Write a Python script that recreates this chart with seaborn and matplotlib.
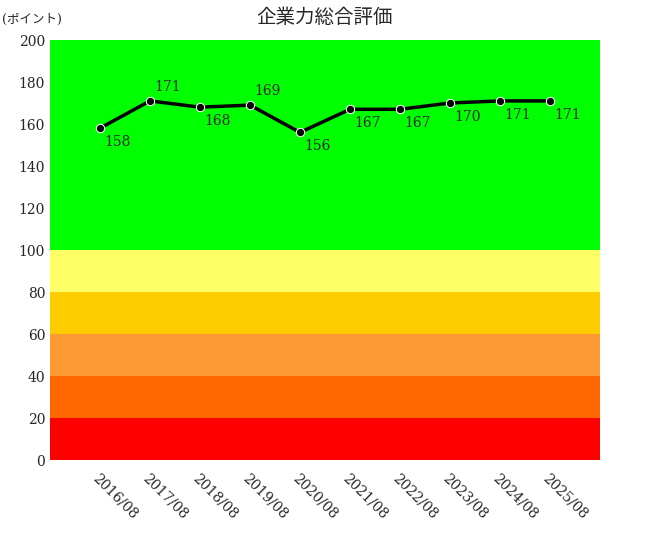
import matplotlib
matplotlib.use("Agg")
import matplotlib.pyplot as plt
import seaborn as sns
import pandas as pd

years = ["2016/08","2017/08","2018/08","2019/08","2020/08","2021/08","2022/08","2023/08","2024/08","2025/08"]
values = [158,171,168,169,156,167,167,170,171,171]
label_above = [False,True,False,True,False,False,False,False,False,False]
band_edges = [0,20,40,60,80,100,200]
band_colors = ["#FF0000","#FF6600","#FF9933","#FFCC00","#FFFF66","#00FF00"]

sns.set_style("white")
plt.rcParams['font.family'] = ['DejaVu Serif','Noto Sans CJK JP']

fig = plt.figure(figsize=(6.5,5.4), dpi=100)
ax = fig.add_axes([50/650, 80/540, 550/650, 420/540])
for i in range(len(band_colors)):
    ax.axhspan(band_edges[i], band_edges[i+1], color=band_colors[i], lw=0, zorder=0)

df = pd.DataFrame({"x": range(len(years)), "y": values})
sns.lineplot(data=df, x="x", y="y", ax=ax, color="black", lw=2.5, marker="o", markersize=6, zorder=3)
for i, v in enumerate(values):
    ax.annotate(str(v), (i, v), xytext=(3, 5 if label_above[i] else -5), textcoords="offset points",
                ha="left", va="bottom" if label_above[i] else "top", fontsize=10)

ax.set_xlim(-1, len(years))
ax.set_ylim(0, 200)
ax.set_yticks(range(0, 201, 20))
ax.set_xticks(range(len(years)))
ax.set_xticklabels(years, rotation=-45, ha="left", rotation_mode="anchor", fontsize=10)
ax.tick_params(axis="y", labelsize=10, length=0)
ax.tick_params(axis="x", length=0, pad=8)
ax.set_xlabel(""); ax.set_ylabel("")
for s in ax.spines.values():
    s.set_visible(False)
fig.text(0.5, 1-18/540, "企業力総合評価", ha="center", va="center", fontsize=14)
fig.text(2/650, 1-19/540, "(ポイント)", ha="left", va="center", fontsize=9)
fig.savefig("out.png", dpi=100)
